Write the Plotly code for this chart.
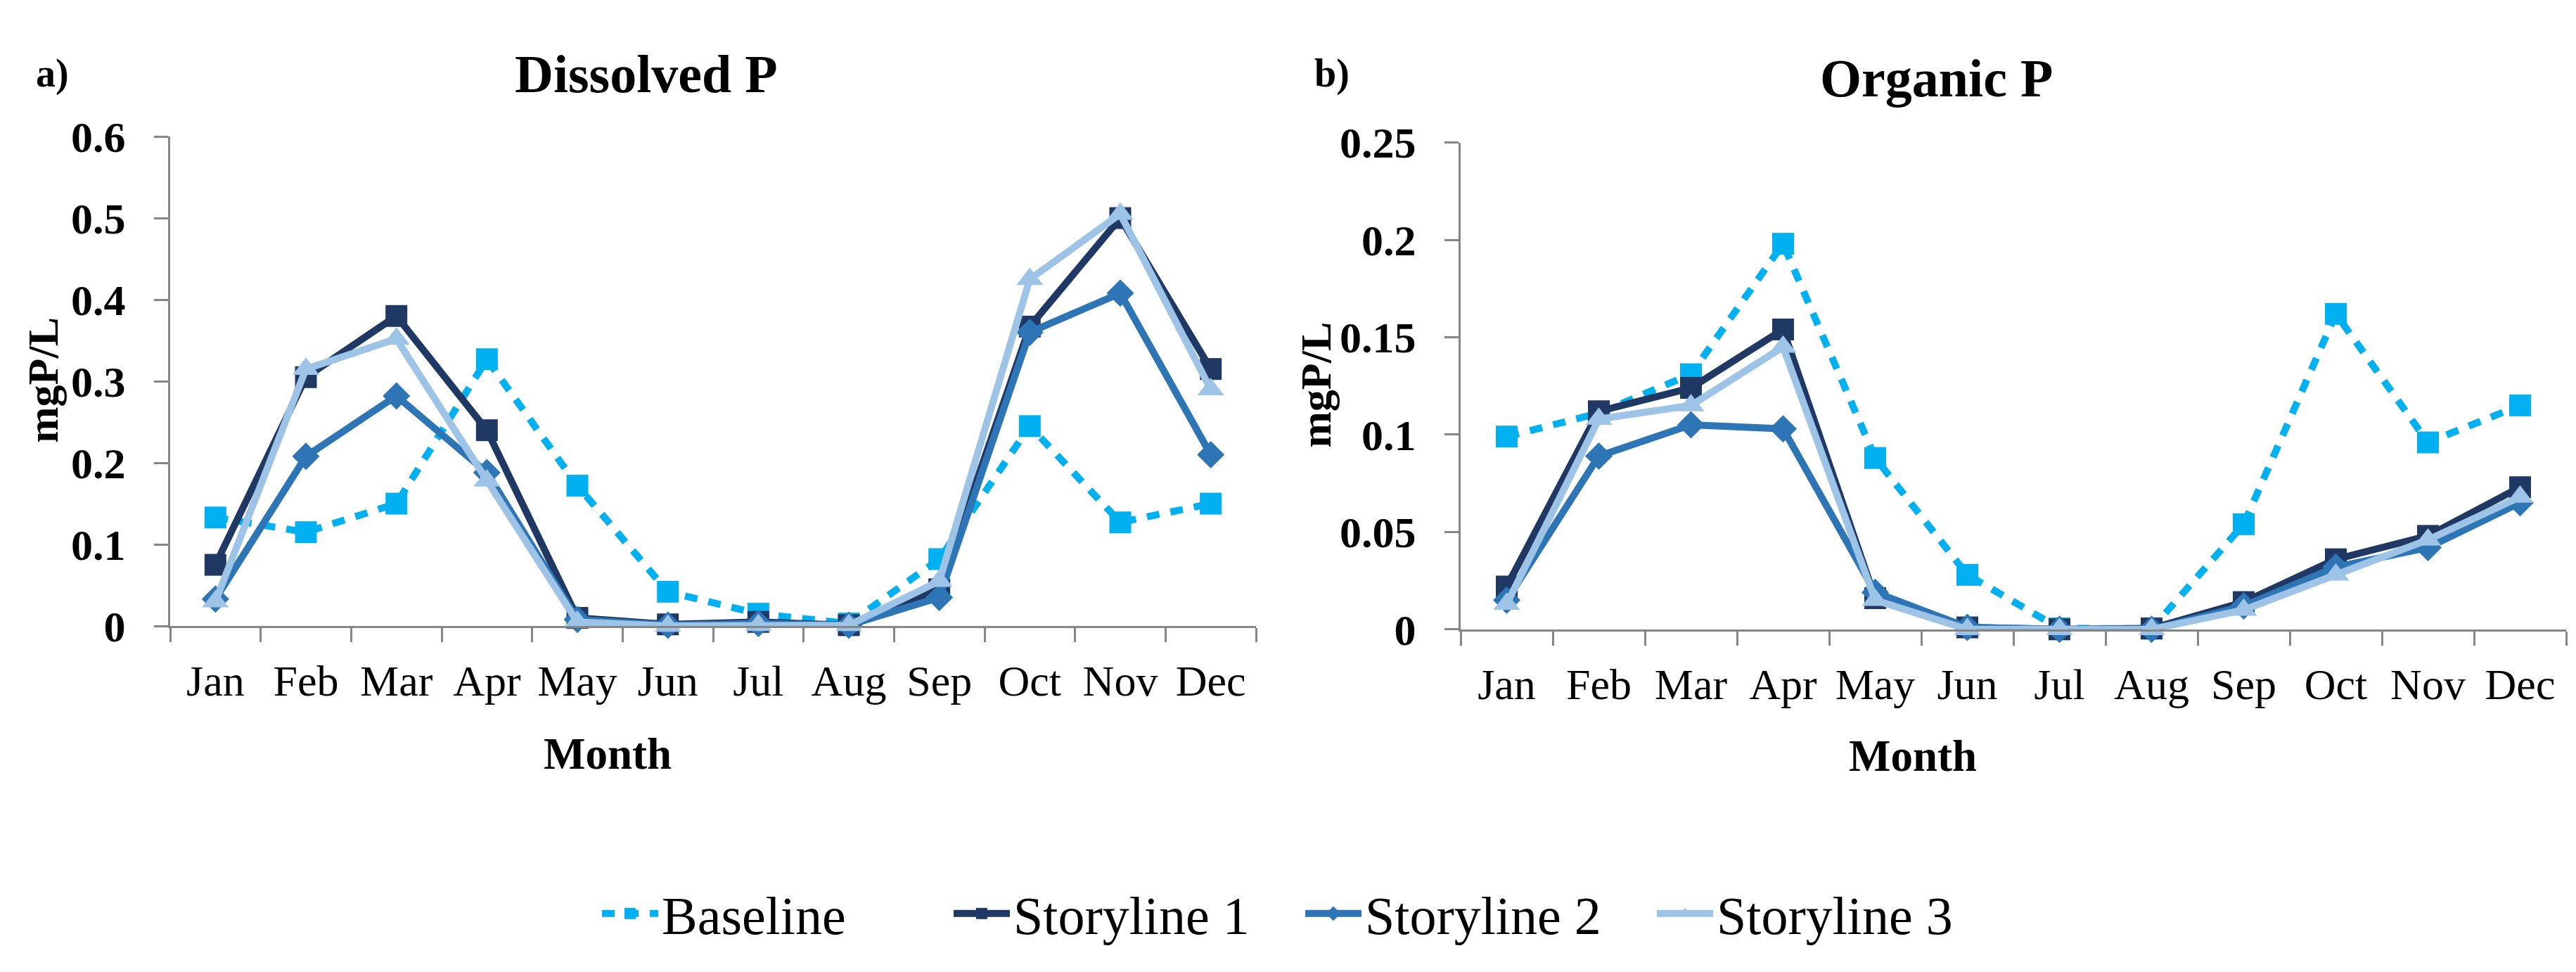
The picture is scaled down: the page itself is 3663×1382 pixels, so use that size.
import plotly.graph_objects as go

months = ["Jan", "Feb", "Mar", "Apr", "May", "Jun", "Jul", "Aug", "Sep", "Oct", "Nov", "Dec"]
series_names = ["Baseline", "Storyline 1", "Storyline 2", "Storyline 3"]

# a) Dissolved P (mgP/L)
dis_baseline = [0.133, 0.115, 0.150, 0.327, 0.172, 0.042, 0.015, 0.003, 0.082, 0.245, 0.127, 0.150]
dis_story1 = [0.075, 0.305, 0.380, 0.240, 0.010, 0.002, 0.005, 0.001, 0.045, 0.367, 0.500, 0.315]
dis_story2 = [0.033, 0.208, 0.282, 0.188, 0.008, 0.001, 0.003, 0.001, 0.035, 0.360, 0.408, 0.210]
dis_story3 = [0.030, 0.315, 0.352, 0.178, 0.005, 0.000, 0.001, 0.001, 0.055, 0.425, 0.505, 0.290]

# b) Organic P (mgP/L)
org_baseline = [0.099, 0.111, 0.131, 0.198, 0.088, 0.028, 0.0005, 0.0003, 0.054, 0.162, 0.096, 0.115]
org_story1 = [0.022, 0.112, 0.124, 0.154, 0.016, 0.001, 0.000, 0.0005, 0.014, 0.036, 0.048, 0.073]
org_story2 = [0.015, 0.089, 0.105, 0.103, 0.019, 0.001, 0.000, 0.000, 0.012, 0.032, 0.042, 0.065]
org_story3 = [0.013, 0.108, 0.115, 0.145, 0.015, 0.000, 0.000, 0.000, 0.010, 0.028, 0.046, 0.068]

dis_ticks = [0, 0.1, 0.2, 0.3, 0.4, 0.5, 0.6]
dis_ticktext = ["<b>0</b>", "<b>0.1</b>", "<b>0.2</b>", "<b>0.3</b>", "<b>0.4</b>", "<b>0.5</b>", "<b>0.6</b>"]
org_ticks = [0, 0.05, 0.1, 0.15, 0.2, 0.25]
org_ticktext = ["<b>0</b>", "<b>0.05</b>", "<b>0.1</b>", "<b>0.15</b>", "<b>0.2</b>", "<b>0.25</b>"]

colors = ["#00B0F0", "#1F3864", "#2E75B6", "#9DC3E6"]
symbols = ["square", "square", "diamond", "triangle-up"]
msizes = [31, 31, 30, 33]
widths = [10, 10, 10, 10]
dashes = ["18px,16px", "solid", "solid", "solid"]

FONT = "Liberation Serif"
W, H = 3663, 1382

fig = go.Figure()

panels = [
    ([dis_baseline, dis_story1, dis_story2, dis_story3], "x", "y"),
    ([org_baseline, org_story1, org_story2, org_story3], "x2", "y2"),
]
for pi, (data, xa, ya) in enumerate(panels):
    for i, vals in enumerate(data):
        fig.add_trace(go.Scatter(
            x=months, y=vals, xaxis=xa, yaxis=ya,
            name=series_names[i], legendgroup=series_names[i], showlegend=(pi == 0),
            mode="lines+markers",
            line=dict(color=colors[i], width=widths[i], dash=dashes[i]),
            marker=dict(symbol=symbols[i], size=msizes[i], color=colors[i], line=dict(width=0)),
            cliponaxis=False,
        ))

axis_common = dict(
    showgrid=False, zeroline=False, showline=True, linecolor="#868686", linewidth=3,
    ticks="outside", tickcolor="#868686", tickwidth=3, ticklen=20,
)
xcommon = dict(axis_common, type="category", tickson="boundaries",
               range=[-0.5, 11.5], tickfont=dict(family=FONT, size=62, color="black"),
               ticklabelstandoff=22)
ycommon = dict(axis_common, tickfont=dict(family=FONT, size=62, color="black"),
               ticklabelstandoff=28)

fig.update_layout(
    width=W, height=H,
    margin=dict(l=0, r=0, t=0, b=0),
    paper_bgcolor="white", plot_bgcolor="white",
    font=dict(family=FONT, color="black"),
    xaxis=dict(xcommon, domain=[234 / W, 1778 / W], anchor="y"),
    yaxis=dict(ycommon, domain=[1 - 893 / H, 1 - 161 / H], anchor="x", range=[0, 0.6],
               tickvals=dis_ticks, ticktext=dis_ticktext),
    xaxis2=dict(xcommon, domain=[2069 / W, 3641 / W], anchor="y2"),
    yaxis2=dict(ycommon, domain=[1 - 898 / H, 1 - 170 / H], anchor="x2", range=[0, 0.25],
                tickvals=org_ticks, ticktext=org_ticktext),
    showlegend=True,
    legend=dict(orientation="h", x=1843 / W, xanchor="center", y=1 - 1323 / H, yanchor="middle",
                font=dict(family=FONT, size=76, color="black"), itemwidth=80,
                entrywidth=405, entrywidthmode="pixels",
                bgcolor="rgba(0,0,0,0)"),
)

def ann(text, x, y, size, bold=True, angle=0):
    fig.add_annotation(
        text=("<b>%s</b>" % text) if bold else text,
        x=x / W, y=1 - y / H, xref="paper", yref="paper",
        xanchor="center", yanchor="middle", showarrow=False, textangle=angle,
        font=dict(family=FONT, size=size, color="black"),
    )

ann("Dissolved P", 911, 67, 76)
ann("Organic P", 2745, 74, 76)
ann("a)", 66, 67, 56)
ann("b)", 1886, 67, 56)
ann("mgP/L", 53, 526, 62, angle=-90)
ann("mgP/L", 1863, 533, 62, angle=-90)
ann("Month", 856, 1084, 63)
ann("Month", 2712, 1087, 63)

fig.write_html("out.html")
